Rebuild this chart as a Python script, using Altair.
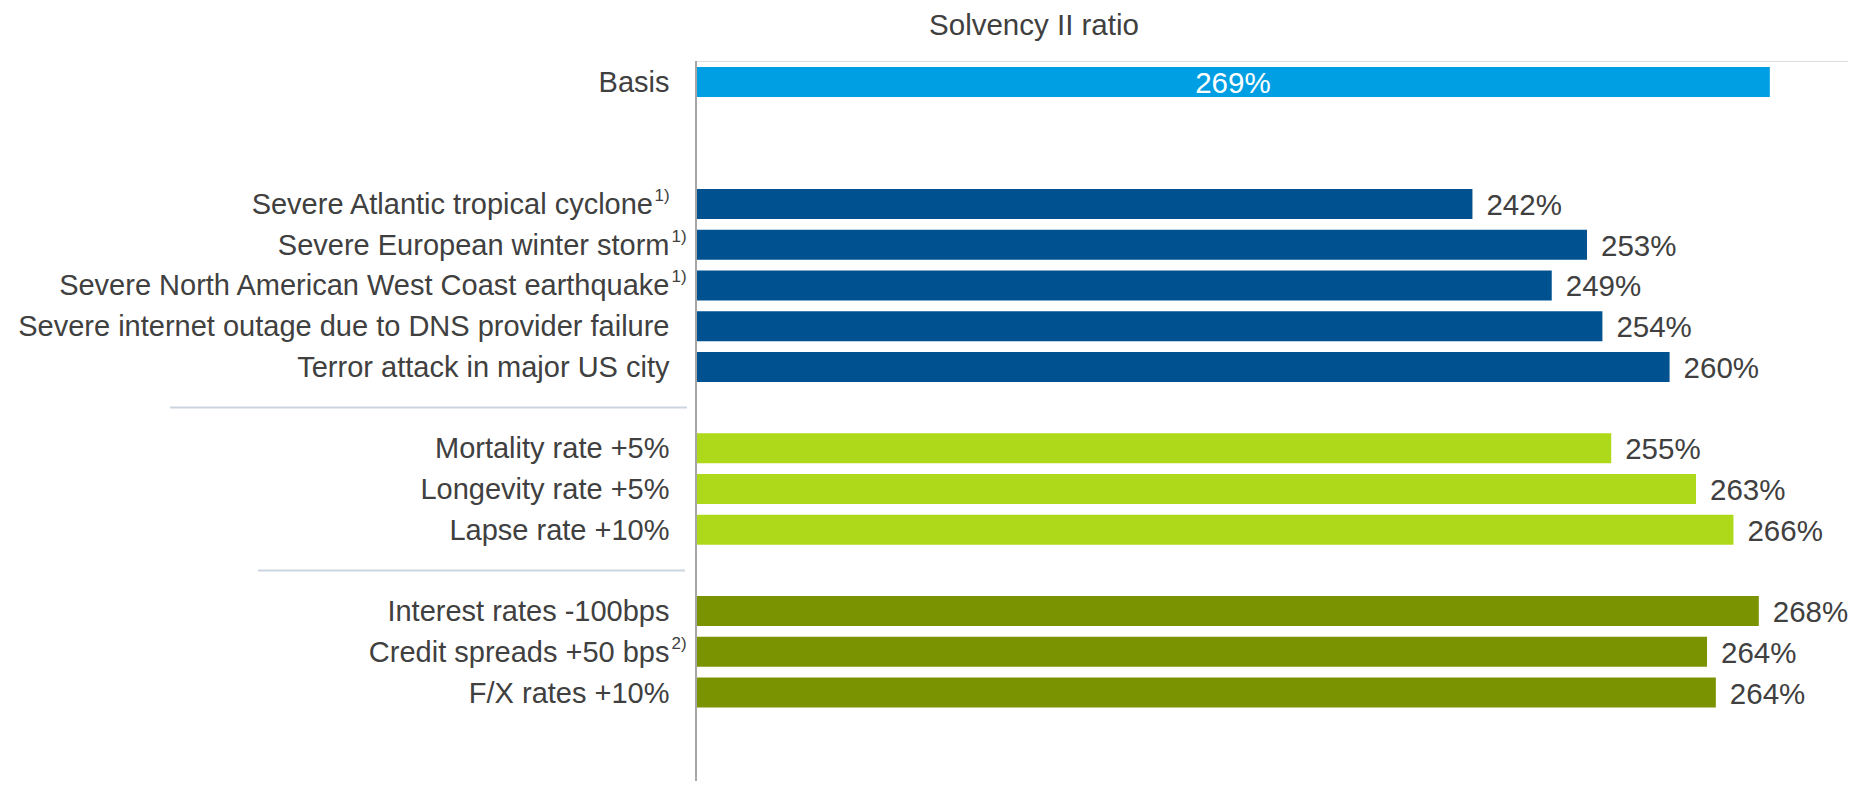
import altair as alt
import pandas as pd

# ---- data ----
title_text = "Solvency II ratio"
basis_label = ["Basis"]
basis_value = [269.0]
basis_text = ["269%"]

nat_cat = ["Severe Atlantic tropical cyclone", "Severe European winter storm",
           "Severe North American West Coast earthquake",
           "Severe internet outage due to DNS provider failure",
           "Terror attack in major US city"]
nat_cat_values = [242.0, 252.4, 249.2, 253.8, 259.9]
nat_cat_text = ["242%", "253%", "249%", "254%", "260%"]
nat_cat_sup = ["1)", "1)", "1)", "", ""]

life = ["Mortality rate +5%", "Longevity rate +5%", "Lapse rate +10%"]
life_values = [254.6, 262.3, 265.7]
life_text = ["255%", "263%", "266%"]
life_sup = ["", "", ""]

market = ["Interest rates -100bps", "Credit spreads +50 bps", "F/X rates +10%"]
market_values = [268.0, 263.3, 264.1]
market_text = ["268%", "264%", "264%"]
market_sup = ["", "2)", ""]

groups = ["basis", "natcat", "life", "market"]
group_colors = ["#009FE3", "#00518F", "#AED81A", "#7A9300"]

axis_origin = 171.5
axis_max = 276.1

# labels whose footnote mark sits inside the right-aligned block
sup_inside = ["Severe Atlantic tropical cyclone"]

# ---- table ----
rows = []
for lab, v, t in zip(basis_label, basis_value, basis_text):
    rows.append(dict(key=lab, value=v, txt=t, group="basis", sup=""))
for lab, v, t, s in zip(nat_cat, nat_cat_values, nat_cat_text, nat_cat_sup):
    rows.append(dict(key=lab, value=v, txt=t, group="natcat", sup=s))
for lab, v, t, s in zip(life, life_values, life_text, life_sup):
    rows.append(dict(key=lab, value=v, txt=t, group="life", sup=s))
for lab, v, t, s in zip(market, market_values, market_text, market_sup):
    rows.append(dict(key=lab, value=v, txt=t, group="market", sup=s))
df = pd.DataFrame(rows)
df["base"] = axis_origin
df["mid"] = (df["base"] + df["value"]) / 2
df["inside"] = df["key"].isin(sup_inside)

row_domain = basis_label + ["gap_a", "gap_b"] + nat_cat + ["sep_1"] + life + ["sep_2"] + market

FONT = "Liberation Sans"
TXT = "#404040"
H = 720

yenc = alt.Y("key:N", scale=alt.Scale(domain=row_domain, range=[6, 646.5],
                                      paddingInner=0.263, paddingOuter=0), axis=None)
xscale = alt.Scale(domain=[axis_origin, axis_max], nice=False, zero=False)

base = alt.Chart(df)

bars = base.mark_bar().encode(
    x=alt.X("value:Q", scale=xscale, axis=None),
    x2="base:Q",
    y=yenc,
    color=alt.Color("group:N", scale=alt.Scale(domain=groups, range=group_colors), legend=None),
)

value_labels = base.transform_filter("datum.group != 'basis'").mark_text(
    align="left", baseline="alphabetic", dx=14, dy=11, font=FONT, fontSize=29.5, color=TXT
).encode(x=alt.X("value:Q", scale=xscale), y=yenc, text="txt:N")

basis_lbl = base.transform_filter("datum.group == 'basis'").mark_text(
    align="center", baseline="alphabetic", dy=11, font=FONT, fontSize=29.5, color="white"
).encode(x=alt.X("mid:Q", scale=xscale), y=yenc, text="txt:N")

cat_labels = base.transform_filter("!datum.inside").mark_text(
    align="right", baseline="alphabetic", dy=10, font=FONT, fontSize=29, color=TXT
).encode(x=alt.value(-26.5), y=yenc, text="key:N")

cat_labels_in = base.transform_filter("datum.inside").mark_text(
    align="right", baseline="alphabetic", dy=10, font=FONT, fontSize=29, color=TXT
).encode(x=alt.value(-43), y=yenc, text="key:N")

sups = base.transform_filter("datum.sup != '' && !datum.inside").mark_text(
    align="left", baseline="alphabetic", dy=-3, font=FONT, fontSize=17, color=TXT
).encode(x=alt.value(-24.5), y=yenc, text="sup:N")

sups_in = base.transform_filter("datum.sup != '' && datum.inside").mark_text(
    align="left", baseline="alphabetic", dy=-3, font=FONT, fontSize=17, color=TXT
).encode(x=alt.value(-41.5), y=yenc, text="sup:N")

sep_df = pd.DataFrame({"key": ["sep_1", "sep_2"]})
sep1 = alt.Chart(sep_df).transform_filter("datum.key == 'sep_1'").mark_rule(
    color="#CAD5DF", strokeWidth=2
).encode(y=yenc, x=alt.value(-526), x2=alt.value(-9))
sep2 = alt.Chart(sep_df).transform_filter("datum.key == 'sep_2'").mark_rule(
    color="#CAD5DF", strokeWidth=2
).encode(y=yenc, x=alt.value(-438), x2=alt.value(-11))

axis_line = alt.Chart(sep_df).transform_filter("datum.key == 'sep_1'").mark_rule(
    color="#A6A6A6", strokeWidth=2
).encode(x=alt.value(0), y=alt.value(0), y2=alt.value(H))

title_df = pd.DataFrame({"t": [title_text]})
title = alt.Chart(title_df).mark_text(
    align="center", baseline="alphabetic", font=FONT, fontSize=29.5, color=TXT
).encode(x=alt.value(338), y=alt.value(-26), text="t:N")

chart = alt.layer(
    bars, sep1, sep2, axis_line, value_labels, basis_lbl,
    cat_labels, cat_labels_in, sups, sups_in, title
).properties(
    width=1152, height=H,
    autosize=alt.AutoSizeParams(type="none"),
    padding={"left": 688, "top": 53, "right": 0, "bottom": 0},
).configure_view(stroke=None).configure(background="white")

chart.save("out.html", embed_options={"renderer": "svg", "actions": False})
